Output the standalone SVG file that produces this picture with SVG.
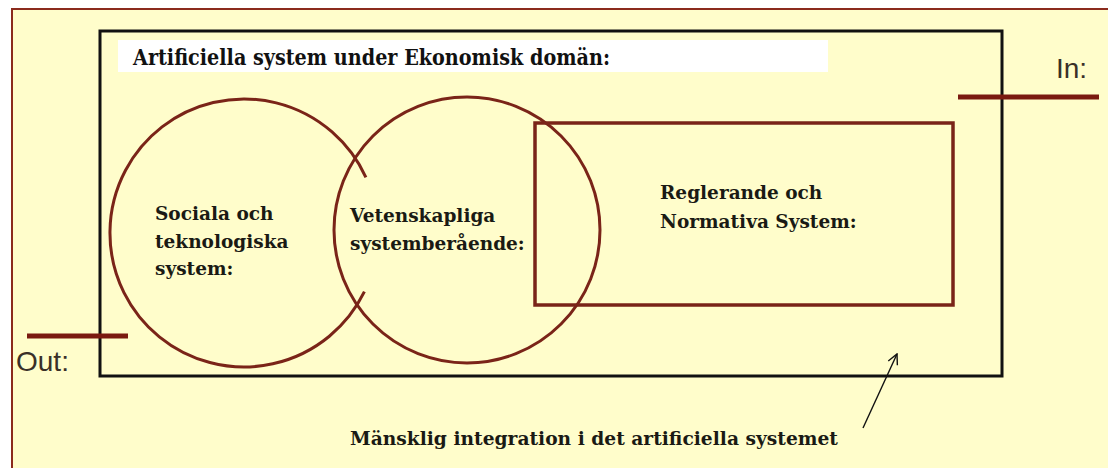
<svg xmlns="http://www.w3.org/2000/svg" width="1108" height="468" viewBox="0 0 1108 468">
<defs>
<style>
.lbl{font-family:"DejaVu Serif","Liberation Serif",serif;font-weight:bold;font-size:18.5px;fill:#1a1a14}
.io{font-family:"Liberation Sans",Arial,sans-serif;font-size:28px;fill:#3a3028}
.red{fill:none;stroke:#7a2418;stroke-width:3}
.bar{stroke:#7a1a10;stroke-width:5}
</style>
<marker id="ah" viewBox="0 0 12 12" refX="11" refY="6" markerWidth="12" markerHeight="12" markerUnits="userSpaceOnUse" orient="auto">
<path d="M1,1 L11,6 L1,11" fill="none" stroke="#111" stroke-width="1.4"/>
</marker>
</defs>
<rect x="0" y="0" width="1108" height="468" fill="#ffffff"/>
<rect id="frame" x="12" y="9" width="1110" height="480" fill="#fffdcb" stroke="#8b2b1d" stroke-width="2"/>
<g id="system">
<rect x="100" y="31" width="902" height="345" fill="none" stroke="#111" stroke-width="3"/>
<rect x="118" y="40" width="710" height="32" fill="#ffffff"/>
<text x="133" y="65" font-family="'DejaVu Serif','Liberation Serif',serif" font-weight="bold" font-size="22" fill="#111" textLength="477" lengthAdjust="spacingAndGlyphs">Artificiella system under Ekonomisk domän:</text>
</g>
<g id="sociala">
<path class="red" d="M364.4,291.7 A134,134 0 1 1 365.9,177.4"/>
<text class="lbl" x="155" y="220">Sociala och</text>
<text class="lbl" x="155" y="248">teknologiska</text>
<text class="lbl" x="155" y="275">system:</text>
</g>
<g id="vetenskapliga">
<circle class="red" cx="467" cy="230" r="133"/>
<text class="lbl" x="350" y="222">Vetenskapliga</text>
<text class="lbl" x="350" y="250">systemberående:</text>
</g>
<g id="reglerande">
<rect x="535" y="123" width="418" height="182" fill="none" stroke="#7a2418" stroke-width="3.5"/>
<text class="lbl" x="660" y="199">Reglerande och</text>
<text class="lbl" x="660" y="228">Normativa System:</text>
</g>
<g id="in">
<line class="bar" x1="958" y1="97" x2="1099" y2="97"/>
<text class="io" x="1056" y="78">In:</text>
</g>
<g id="out">
<line class="bar" x1="27" y1="336" x2="128" y2="336"/>
<text class="io" x="16" y="371">Out:</text>
</g>
<g id="note">
<text class="lbl" x="350" y="445" font-size="20" textLength="488" lengthAdjust="spacingAndGlyphs">Mänsklig integration i det artificiella systemet</text>
</g>
<g id="connectors">
<line x1="863" y1="428" x2="897" y2="354" stroke="#111" stroke-width="1.4" marker-end="url(#ah)"/>
</g>
</svg>
